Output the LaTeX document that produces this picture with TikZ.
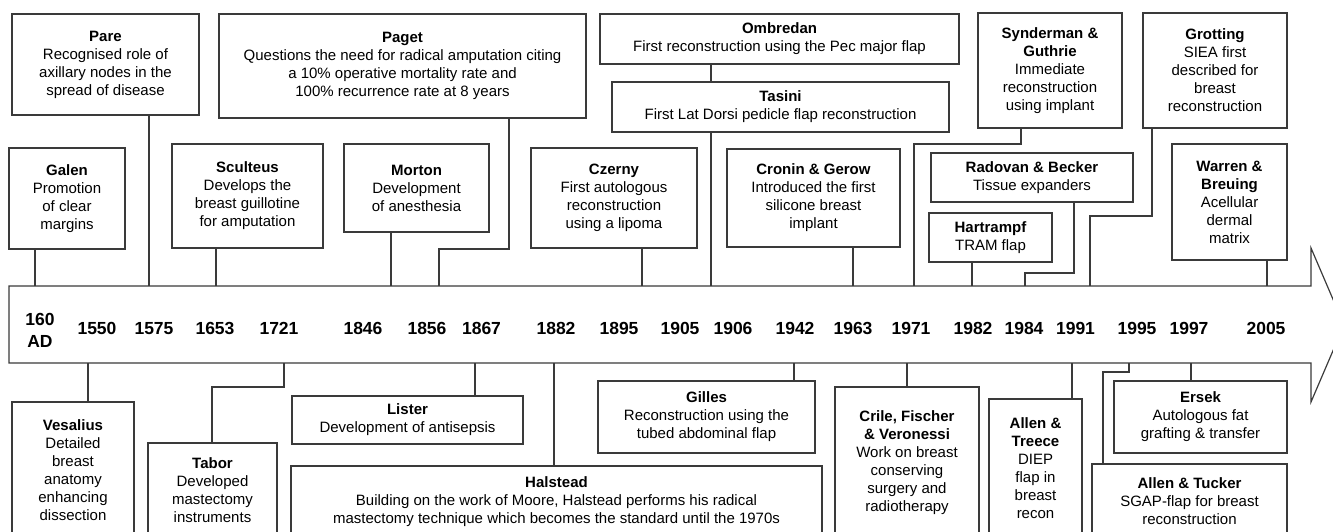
\documentclass[tikz,border=0pt]{standalone}
\usepackage{fontspec}
\setmainfont{Liberation Sans}
\newcommand\bodyfont{\fontsize{15}{18}\selectfont}
\newcommand\yearfont{\fontsize{17.5}{22}\selectfont\bfseries}
\newcommand\nm[1]{\textbf{#1}}
\definecolor{linec}{HTML}{3A3A3A}
\tikzset{
  box/.style={draw=linec, line width=1.2pt, fill=white, inner sep=0pt, align=center, font=\bodyfont},
  conn/.style={draw=linec, line width=1.2pt},
  yearlbl/.style={font=\yearfont, inner sep=0pt, align=center},
}
\begin{document}
\begin{tikzpicture}[x=1pt,y=-1pt]
\useasboundingbox (0,0) rectangle (1333,531);
\clip (0,0) rectangle (1333,531);
% timeline bar
\draw[conn, fill=white] (9,286) -- (1311,286) -- (1311,248) -- (1344,325) -- (1311,402) -- (1311,363) -- (9,363) -- cycle;
% years
\node[yearlbl] (y160) at (40,330) {160\\AD};
\node[yearlbl] (y1550) at (97,328.5) {1550};
\node[yearlbl] (y1575) at (154,328.5) {1575};
\node[yearlbl] (y1653) at (215,328.5) {1653};
\node[yearlbl] (y1721) at (279,328.5) {1721};
\node[yearlbl] (y1846) at (363,328.5) {1846};
\node[yearlbl] (y1856) at (427,328.5) {1856};
\node[yearlbl] (y1867) at (481.5,328.5) {1867};
\node[yearlbl] (y1882) at (556,328.5) {1882};
\node[yearlbl] (y1895) at (619,328.5) {1895};
\node[yearlbl] (y1905) at (680,328.5) {1905};
\node[yearlbl] (y1906) at (733,328.5) {1906};
\node[yearlbl] (y1942) at (795,328.5) {1942};
\node[yearlbl] (y1963) at (853,328.5) {1963};
\node[yearlbl] (y1971) at (911,328.5) {1971};
\node[yearlbl] (y1982) at (973,328.5) {1982};
\node[yearlbl] (y1984) at (1024,328.5) {1984};
\node[yearlbl] (y1991) at (1075.5,328.5) {1991};
\node[yearlbl] (y1995) at (1137,328.5) {1995};
\node[yearlbl] (y1997) at (1189,328.5) {1997};
\node[yearlbl] (y2005) at (1266,328.5) {2005};
% attachment points on the bar (top edge y=286, bottom edge y=363)
\coordinate (tGalen) at (35,286);
\coordinate (tPare) at (149,286);
\coordinate (tScult) at (216,286);
\coordinate (tMorton) at (391,286);
\coordinate (tPaget) at (439,286);
\coordinate (kPaget) at (509,249);
\coordinate (tCzerny) at (642,286);
\coordinate (tOmb) at (711,286);
\coordinate (tCronin) at (853,286);
\coordinate (tSynd) at (914,286);
\coordinate (kSynd) at (1021,144);
\coordinate (tHart) at (972,286);
\coordinate (tRad) at (1025,286);
\coordinate (kRad) at (1074,273);
\coordinate (tGrot) at (1090,286);
\coordinate (kGrot) at (1152,216);
\coordinate (tWarren) at (1267,286);
\coordinate (bVes) at (88,363);
\coordinate (bTabor) at (284,363);
\coordinate (kTabor) at (212,387);
\coordinate (bLister) at (475,363);
\coordinate (bHal) at (554,363);
\coordinate (bGilles) at (794,363);
\coordinate (bCrile) at (907,363);
\coordinate (bTreece) at (1072,363);
\coordinate (bTucker) at (1129,363);
\coordinate (kTucker) at (1103,372);
\coordinate (bErsek) at (1191,363);
% top boxes
\node[box, minimum width=187, minimum height=101] (pare) at (105.5,64.5) {\nm{Pare}\\Recognised role of\\axillary nodes in the\\spread of disease};
\node[box, minimum width=116, minimum height=101] (galen) at (67,198.5) {\nm{Galen}\\Promotion\\of clear\\margins};
\node[box, minimum width=151, minimum height=104] (scult) at (247.5,196) {\nm{Sculteus}\\Develops the\\breast guillotine\\for amputation};
\node[box, minimum width=367, minimum height=104] (paget) at (402.5,66) {\nm{Paget}\\Questions the need for radical amputation citing\\a 10\% operative mortality rate and\\100\% recurrence rate at 8 years};
\node[box, minimum width=145, minimum height=88] (morton) at (416.5,188) {\nm{Morton}\\Development\\of anesthesia};
\node[box, minimum width=359, minimum height=50] (omb) at (779.5,39) {\nm{Ombredan}\\First reconstruction using the Pec major flap};
% connectors (drawn before the boxes that cover them)
\draw[conn] (galen.south -| tGalen) -- (tGalen);
\draw[conn] (pare.south -| tPare) -- (tPare);
\draw[conn] (scult.south -| tScult) -- (tScult);
\draw[conn] (morton.south -| tMorton) -- (tMorton);
\draw[conn] (paget.south -| kPaget) -- (kPaget) -| (tPaget);
\draw[conn] (omb.south -| tOmb) -- (tOmb);
\node[box, minimum width=337, minimum height=50] (tasini) at (780.5,107) {\nm{Tasini}\\First Lat Dorsi pedicle flap reconstruction};
\node[box, minimum width=166, minimum height=100] (czerny) at (614,198) {\nm{Czerny}\\First autologous\\reconstruction\\using a lipoma};
\node[box, minimum width=173, minimum height=98] (cronin) at (813.5,198) {\nm{Cronin \& Gerow}\\Introduced the first\\silicone breast\\implant};
\node[box, minimum width=144, minimum height=115] (synd) at (1050,70.5) {\nm{Synderman \&}\\\nm{Guthrie}\\Immediate\\reconstruction\\using implant};
\node[box, minimum width=144, minimum height=115] (grot) at (1215,70.5) {\nm{Grotting}\\SIEA first\\described for\\breast\\reconstruction};
\node[box, minimum width=202, minimum height=49] (rad) at (1032,177.5) {\nm{Radovan \& Becker}\\Tissue expanders};
\node[box, minimum width=123, minimum height=49] (hart) at (990.5,237.5) {\nm{Hartrampf}\\TRAM flap};
\node[box, minimum width=115, minimum height=116] (warren) at (1229.5,202) {\nm{Warren \&}\\\nm{Breuing}\\Acellular\\dermal\\matrix};
\draw[conn] (czerny.south -| tCzerny) -- (tCzerny);
\draw[conn] (cronin.south -| tCronin) -- (tCronin);
\draw[conn] (synd.south -| kSynd) -- (kSynd) -| (tSynd);
\draw[conn] (grot.south -| kGrot) -- (kGrot) -| (tGrot);
\draw[conn] (rad.south -| kRad) -- (kRad) -| (tRad);
\draw[conn] (hart.south -| tHart) -- (tHart);
\draw[conn] (warren.south -| tWarren) -- (tWarren);
% bottom boxes
\node[box, minimum width=122, minimum height=136] (ves) at (73,470) {\nm{Vesalius}\\Detailed\\breast\\anatomy\\enhancing\\dissection};
\node[box, minimum width=129, minimum height=95] (tabor) at (212.5,490.5) {\nm{Tabor}\\Developed\\mastectomy\\instruments};
\node[box, minimum width=231, minimum height=48] (lister) at (407.5,420) {\nm{Lister}\\Development of antisepsis};
\node[box, minimum width=531, minimum height=72] (hal) at (556.5,502) {\nm{Halstead}\\Building on the work of Moore, Halstead performs his radical\\mastectomy technique which becomes the standard until the 1970s};
\node[box, minimum width=217, minimum height=72] (gilles) at (706.5,417) {\nm{Gilles}\\Reconstruction using the\\tubed abdominal flap};
\node[box, minimum width=144, minimum height=151] (crile) at (907,462.5) {\nm{Crile, Fischer}\\\nm{\& Veronessi}\\Work on breast\\conserving\\surgery and\\radiotherapy};
\node[box, minimum width=93, minimum height=139] (treece) at (1035.5,468.5) {\nm{Allen \&}\\\nm{Treece}\\DIEP\\flap in\\breast\\recon};
\node[box, minimum width=173, minimum height=72] (ersek) at (1200.5,417) {\nm{Ersek}\\Autologous fat\\grafting \& transfer};
\node[box, minimum width=195, minimum height=74] (tucker) at (1189.5,501) {\nm{Allen \& Tucker}\\SGAP-flap for breast\\reconstruction};
\draw[conn] (bVes) -- (ves.north -| bVes);
\draw[conn] (bTabor) |- (kTabor) -- (tabor.north -| kTabor);
\draw[conn] (bLister) -- (lister.north -| bLister);
\draw[conn] (bHal) -- (hal.north -| bHal);
\draw[conn] (bGilles) -- (gilles.north -| bGilles);
\draw[conn] (bCrile) -- (crile.north -| bCrile);
\draw[conn] (bTreece) -- (treece.north -| bTreece);
\draw[conn] (bTucker) |- (kTucker) -- (tucker.north -| kTucker);
\draw[conn] (bErsek) -- (ersek.north -| bErsek);
\end{tikzpicture}
\end{document}
